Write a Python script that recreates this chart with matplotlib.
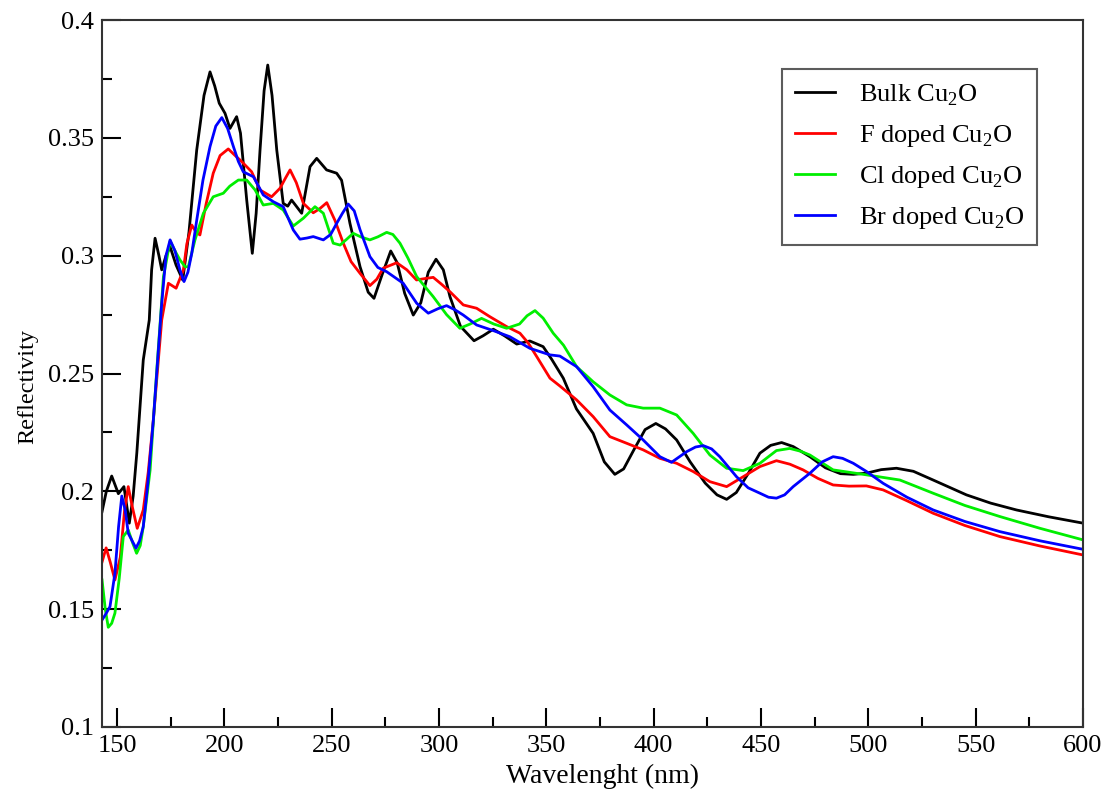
import matplotlib.pyplot as plt
from matplotlib.ticker import MultipleLocator

# Reflectivity spectra of bulk and halogen doped Cu2O
wl_bulk = [143.0, 145.0, 147.5, 150.6, 153.2, 155.7, 157.5, 159.2, 162.2, 165.0, 166.1, 167.7,
           169.5, 170.8, 172.8, 174.7, 177.5, 180.6, 183.5, 187.1, 190.5, 193.3, 195.5, 197.6,
           200.3, 202.6, 205.7, 207.5, 210.4, 213.0, 214.8, 216.6, 218.5, 220.2, 222.2, 224.4,
           227.4, 229.5, 231.3, 233.5, 236.0, 239.9, 243.0, 247.6, 252.3, 254.6, 258.5, 263.2,
           267.0, 269.7, 273.5, 277.5, 280.5, 284.0, 288.0, 291.5, 295.0, 298.6, 302.0, 305.1,
           310.0, 316.3, 320.5, 325.3, 330.5, 336.2, 342.3, 348.5, 352.5, 357.9, 364.0, 371.8,
           377.0, 381.9, 386.0, 391.0, 396.0, 401.0, 405.5, 410.7, 417.0, 424.0, 429.5, 434.0,
           438.5, 444.0, 449.5, 454.5, 459.6, 465.0, 472.8, 480.0, 487.0, 493.0, 499.1, 506.0,
           513.1, 521.0, 530.2, 545.7, 557.0, 569.0, 584.0, 600.0]
r_bulk = [0.1914, 0.2000, 0.2065, 0.1990, 0.2020, 0.1865, 0.1980, 0.2163, 0.2557, 0.2727, 0.2940, 0.3074,
          0.3000, 0.2940, 0.3000, 0.3038, 0.2960, 0.2897, 0.3100, 0.3448, 0.3680, 0.3780, 0.3720, 0.3647,
          0.3604, 0.3540, 0.3590, 0.3520, 0.3236, 0.3010, 0.3180, 0.3448, 0.3700, 0.3809, 0.3680, 0.3448,
          0.3222, 0.3210, 0.3236, 0.3210, 0.3180, 0.3378, 0.3413, 0.3364, 0.3350, 0.3320, 0.3137, 0.2953,
          0.2845, 0.2819, 0.2920, 0.3020, 0.2970, 0.2840, 0.2748, 0.2800, 0.2930, 0.2985, 0.2940, 0.2826,
          0.2700, 0.2639, 0.2660, 0.2688, 0.2660, 0.2625, 0.2638, 0.2614, 0.2560, 0.2480, 0.2350, 0.2246,
          0.2125, 0.2072, 0.2095, 0.2180, 0.2262, 0.2288, 0.2265, 0.2218, 0.2125, 0.2035, 0.1985, 0.1966,
          0.1995, 0.2075, 0.2162, 0.2195, 0.2207, 0.2190, 0.2147, 0.2100, 0.2075, 0.2072, 0.2077, 0.2092,
          0.2098, 0.2085, 0.2048, 0.1985, 0.1950, 0.1921, 0.1892, 0.1865]

wl_f = [143.0, 144.9, 146.8, 149.0, 151.5, 153.5, 155.2, 157.2, 159.4, 162.2, 164.5, 166.9,
        170.8, 173.9, 177.5, 180.9, 182.5, 184.8, 186.8, 188.6, 191.5, 194.8, 198.0, 201.8,
        205.0, 208.1, 212.7, 216.6, 222.0, 225.9, 228.5, 230.6, 233.5, 236.8, 241.4, 244.5,
        247.7, 251.5, 255.4, 259.0, 263.2, 267.8, 271.0, 274.0, 280.3, 285.0, 289.5, 293.5,
        297.3, 301.0, 305.1, 311.3, 317.5, 323.7, 331.5, 337.7, 341.5, 345.5, 351.7, 356.3,
        364.1, 371.8, 379.6, 387.4, 395.1, 402.9, 410.7, 418.4, 426.2, 434.0, 441.7, 449.5,
        457.2, 463.5, 469.6, 476.5, 483.6, 491.0, 499.1, 506.9, 518.0, 530.2, 545.0, 561.3,
        580.0, 600.0]
r_f = [0.1700, 0.1760, 0.1700, 0.1624, 0.1720, 0.1920, 0.2020, 0.1930, 0.1843, 0.1921, 0.2080, 0.2303,
       0.2727, 0.2883, 0.2862, 0.2939, 0.3050, 0.3130, 0.3100, 0.3088, 0.3220, 0.3350, 0.3425, 0.3453,
       0.3425, 0.3399, 0.3356, 0.3279, 0.3250, 0.3286, 0.3330, 0.3364, 0.3310, 0.3222, 0.3182, 0.3200,
       0.3225, 0.3150, 0.3053, 0.2975, 0.2925, 0.2873, 0.2900, 0.2947, 0.2970, 0.2940, 0.2897, 0.2903,
       0.2908, 0.2880, 0.2847, 0.2791, 0.2777, 0.2741, 0.2699, 0.2671, 0.2630, 0.2572, 0.2480, 0.2447,
       0.2388, 0.2317, 0.2232, 0.2204, 0.2176, 0.2140, 0.2119, 0.2084, 0.2041, 0.2020, 0.2062, 0.2105,
       0.2130, 0.2115, 0.2091, 0.2055, 0.2027, 0.2022, 0.2023, 0.2006, 0.1960, 0.1907, 0.1855, 0.1808,
       0.1768, 0.1730]

wl_cl = [143.0, 144.5, 145.9, 147.5, 149.0, 151.0, 152.9, 155.2, 157.3, 159.1, 160.8, 162.2,
         165.4, 168.5, 171.6, 174.7, 177.0, 179.3, 181.7, 183.2, 186.3, 190.2, 194.8, 199.5,
         202.5, 206.5, 210.4, 214.3, 218.1, 222.8, 227.4, 232.1, 236.8, 242.2, 246.1, 250.7,
         253.9, 257.0, 260.0, 263.5, 267.8, 271.5, 275.6, 278.5, 281.8, 285.5, 289.6, 297.3,
         303.5, 309.7, 314.5, 319.8, 325.5, 331.5, 337.5, 341.0, 344.7, 348.5, 353.2, 358.0,
         364.1, 371.8, 379.6, 387.4, 395.1, 402.9, 410.7, 418.4, 426.2, 434.0, 441.7, 449.5,
         457.2, 463.4, 468.5, 472.8, 483.6, 499.1, 514.7, 530.2, 545.0, 561.3, 580.0, 600.0]
r_cl = [0.1624, 0.1500, 0.1423, 0.1440, 0.1483, 0.1630, 0.1808, 0.1836, 0.1780, 0.1737, 0.1770, 0.1850,
        0.2091, 0.2515, 0.2911, 0.3062, 0.3020, 0.2982, 0.2953, 0.2953, 0.3067, 0.3180, 0.3250, 0.3265,
        0.3295, 0.3321, 0.3321, 0.3279, 0.3215, 0.3222, 0.3194, 0.3126, 0.3159, 0.3208, 0.3180, 0.3053,
        0.3045, 0.3070, 0.3095, 0.3080, 0.3067, 0.3080, 0.3099, 0.3090, 0.3053, 0.2990, 0.2911, 0.2826,
        0.2750, 0.2692, 0.2710, 0.2734, 0.2710, 0.2692, 0.2710, 0.2745, 0.2767, 0.2735, 0.2671, 0.2620,
        0.2529, 0.2465, 0.2409, 0.2367, 0.2353, 0.2353, 0.2324, 0.2246, 0.2154, 0.2098, 0.2088, 0.2119,
        0.2173, 0.2182, 0.2170, 0.2154, 0.2091, 0.2070, 0.2048, 0.1992, 0.1940, 0.1893, 0.1843, 0.1794]

wl_br = [143.0, 144.8, 146.7, 149.0, 150.7, 152.2, 153.8, 155.2, 158.8, 160.5, 162.2, 164.5,
         166.9, 170.8, 172.8, 174.7, 177.0, 179.3, 181.2, 183.0, 184.8, 187.1, 190.0, 193.3,
         196.0, 198.8, 201.5, 204.2, 206.5, 208.8, 213.5, 218.1, 222.8, 227.4, 232.1, 235.2,
         238.5, 241.4, 246.1, 249.5, 252.3, 255.0, 257.7, 260.5, 263.2, 267.8, 271.5, 275.6,
         283.3, 289.6, 295.0, 299.5, 303.5, 307.5, 311.3, 317.5, 325.3, 333.0, 342.3, 351.7,
         356.3, 364.1, 371.8, 379.6, 387.4, 395.1, 402.9, 408.3, 415.3, 419.5, 423.1, 427.0,
         430.8, 438.6, 444.0, 449.5, 453.5, 457.2, 461.0, 465.0, 472.8, 478.5, 483.6, 488.0,
         493.0, 499.0, 506.9, 518.0, 530.2, 545.0, 561.3, 580.0, 600.0]
r_br = [0.1454, 0.1480, 0.1511, 0.1652, 0.1850, 0.1980, 0.1920, 0.1822, 0.1759, 0.1790, 0.1850, 0.2050,
        0.2303, 0.2798, 0.3000, 0.3067, 0.3020, 0.2939, 0.2890, 0.2930, 0.3010, 0.3150, 0.3320, 0.3463,
        0.3550, 0.3586, 0.3540, 0.3463, 0.3400, 0.3356, 0.3335, 0.3258, 0.3229, 0.3208, 0.3109, 0.3070,
        0.3075, 0.3081, 0.3067, 0.3090, 0.3137, 0.3180, 0.3219, 0.3190, 0.3110, 0.2996, 0.2950, 0.2932,
        0.2883, 0.2798, 0.2756, 0.2775, 0.2788, 0.2770, 0.2748, 0.2706, 0.2682, 0.2656, 0.2607, 0.2579,
        0.2574, 0.2529, 0.2444, 0.2345, 0.2282, 0.2218, 0.2147, 0.2123, 0.2168, 0.2188, 0.2194, 0.2180,
        0.2147, 0.2062, 0.2015, 0.1992, 0.1975, 0.1971, 0.1985, 0.2020, 0.2077, 0.2125, 0.2147, 0.2140,
        0.2119, 0.2085, 0.2034, 0.1975, 0.1921, 0.1872, 0.1829, 0.1790, 0.1754]

plt.rcParams['font.family'] = ['Liberation Serif', 'DejaVu Serif']
plt.rcParams['mathtext.fontset'] = 'custom'
plt.rcParams['mathtext.rm'] = 'Liberation Serif'

fig = plt.figure(figsize=(11.08, 7.92), dpi=100)
ax = fig.add_axes([0.0921, 0.0821, 0.8853, 0.8926])

ax.plot(wl_bulk, r_bulk, color='black', lw=2.0, label=r'Bulk Cu$_\mathrm{2}$O')
ax.plot(wl_f, r_f, color='red', lw=2.0, label=r'F doped Cu$_\mathrm{2}$O')
ax.plot(wl_cl, r_cl, color='#00ee00', lw=2.0, label=r'Cl doped Cu$_\mathrm{2}$O')
ax.plot(wl_br, r_br, color='blue', lw=2.0, label=r'Br doped Cu$_\mathrm{2}$O')

ax.set_xlim(143, 600)
ax.set_ylim(0.1, 0.4)
ax.xaxis.set_major_locator(MultipleLocator(50))
ax.xaxis.set_minor_locator(MultipleLocator(25))
ax.yaxis.set_major_locator(MultipleLocator(0.05))
ax.yaxis.set_minor_locator(MultipleLocator(0.025))
ax.set_yticks([0.1, 0.15, 0.2, 0.25, 0.3, 0.35, 0.4])
ax.set_yticklabels(['0.1', '0.15', '0.2', '0.25', '0.3', '0.35', '0.4'])
ax.tick_params(which='major', direction='in', length=14, width=1.5, labelsize=19, pad=6)
ax.tick_params(which='minor', direction='in', length=7, width=1.5)
for s in ax.spines.values():
    s.set_linewidth(1.5)
    s.set_color('#333333')

ax.set_xlabel('Wavelenght (nm)', fontsize=20)
ax.xaxis.set_label_coords(0.51, -0.052)
ax.set_ylabel('Reflectivity', fontsize=17.5)
ax.yaxis.set_label_coords(-0.065, 0.481)

leg = ax.legend(loc='upper right', bbox_to_anchor=(0.953, 0.931), fontsize=19,
                fancybox=False, edgecolor='#333333', handlelength=1.5,
                handletextpad=0.9, borderpad=0.5, labelspacing=0.58, borderaxespad=0)
leg.get_frame().set_linewidth(1.5)

plt.savefig('out.png', dpi=100)
